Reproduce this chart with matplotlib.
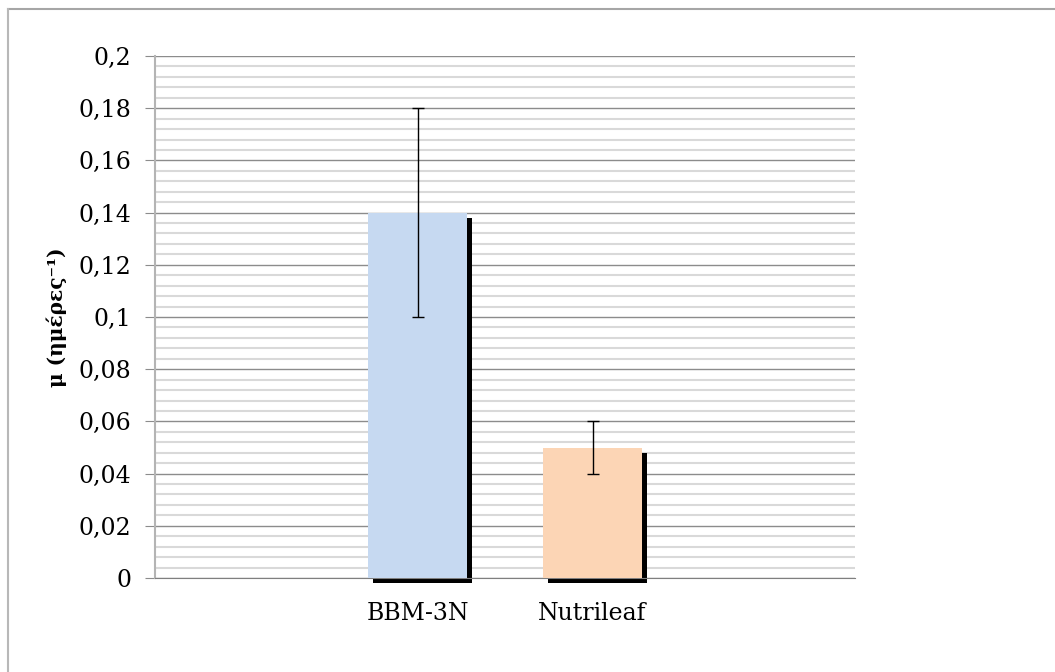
import numpy as np
import matplotlib
matplotlib.use("Agg")
import matplotlib.pyplot as plt
import matplotlib.transforms as mtransforms
from matplotlib.lines import Line2D
from matplotlib.ticker import MultipleLocator, FuncFormatter

# growth rate per medium, with error
categories = ["BBM-3N", "Nutrileaf"]
mu_values = [0.14, 0.05]
mu_errors = [0.04, 0.01]
bar_colors = ["#c6d9f1", "#fcd5b5"]
positions = [1, 2]

plt.rcParams["font.family"] = ["DejaVu Serif"]

fig = plt.figure(figsize=(10.55, 6.72), dpi=100)
ax = fig.add_axes([155 / 1055, 1 - 578 / 672, 700 / 1055, 522 / 672])

# drop shadow behind each bar
shadow = mtransforms.offset_copy(ax.transData, fig=fig, x=5, y=-5, units="dots")
ax.bar(positions, mu_values, width=0.57, color="black", transform=shadow,
       clip_on=False, zorder=2)
ax.bar(positions, mu_values, width=0.57, color=bar_colors, zorder=3)
ax.errorbar(positions, mu_values, yerr=mu_errors, fmt="none", ecolor="black",
            elinewidth=1.0, capsize=4.3, capthick=1.0, zorder=4)

ax.set_xlim(-0.5, 3.5)
ax.set_ylim(0, 0.2)
ax.yaxis.set_major_locator(MultipleLocator(0.02))
ax.yaxis.set_minor_locator(MultipleLocator(0.004))
ax.yaxis.set_major_formatter(FuncFormatter(lambda v, p: f"{v:.2f}".rstrip("0").rstrip(".").replace(".", ",") if v != 0 else "0"))
ax.grid(which="major", axis="y", color="#8c8c8c", linewidth=1.0, zorder=0)
ax.grid(which="minor", axis="y", color="#d9d9d9", linewidth=1.5, zorder=0)
ax.set_axisbelow(True)

ax.set_xticks(positions)
ax.set_xticklabels(categories)
ax.tick_params(axis="x", length=0, pad=17, labelsize=17)
ax.tick_params(axis="y", which="major", length=7, color="#8c8c8c", pad=10, labelsize=17)
ax.tick_params(axis="y", which="minor", length=0)

for side in ["top", "right"]:
    ax.spines[side].set_visible(False)
ax.spines["left"].set_color("#b4b4b4")
ax.spines["bottom"].set_color("#7f7f7f")
ax.spines["left"].set_linewidth(1.5)

ax.set_ylabel("μ (ημέρες⁻¹)", fontsize=14.5, fontweight="bold", labelpad=8)

# chart area border (top and left edges are visible)
fig.add_artist(Line2D([8 / 1055, 1], [1 - 9 / 672, 1 - 9 / 672], color="#a6a6a6", linewidth=1.5))
fig.add_artist(Line2D([8 / 1055, 8 / 1055], [0, 1 - 9 / 672], color="#b8b8b8", linewidth=1.5))

fig.savefig("out.png", dpi=100)
plt.close(fig)
